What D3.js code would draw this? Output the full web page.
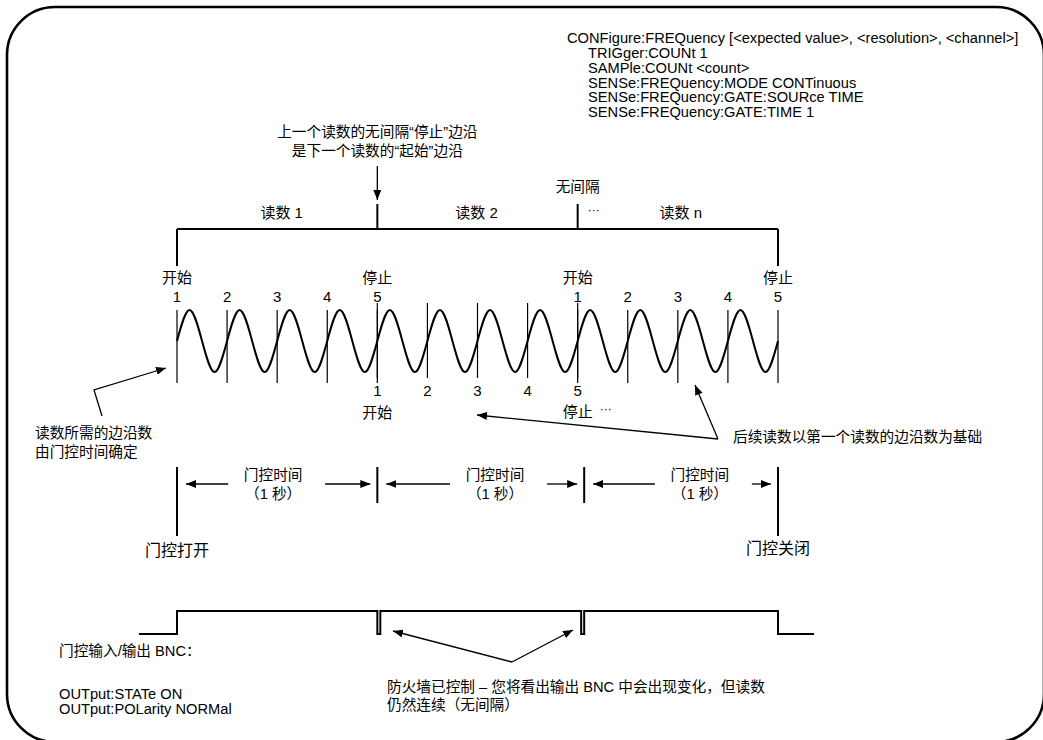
<!DOCTYPE html>
<html><head><meta charset="utf-8">
<script src="https://cdn.jsdelivr.net/npm/d3@7"></script>
<style>
html,body{margin:0;padding:0;background:#fff;}
svg{display:block;}
text{font-family:"Liberation Sans",Arial,"Noto Sans CJK SC",sans-serif;fill:#000;font-size:14.67px;}
</style></head>
<body>
<script>
// ---------- data ----------
const configLines = [
  "CONFigure:FREQuency [<expected value>, <resolution>, <channel>]",
  "TRIGger:COUNt 1",
  "SAMPle:COUNt <count>",
  "SENSe:FREQuency:MODE CONTinuous",
  "SENSe:FREQuency:GATE:SOURce TIME",
  "SENSe:FREQuency:GATE:TIME 1"
];
const noteTop = ["上一个读数的无间隔“停止”边沿", "是下一个读数的“起始”边沿"];
const readingLabels = ["读数 1", "读数 2", "读数 n"];
const readingCenters = [2.09, 5.98, 10.06];      // in cycles
const readingBounds = [0, 4, 8, 12];            // in cycles
const edgeNumbers = ["1", "2", "3", "4", "5"];
const topEdgeCycles = [0, 1, 2, 3, 4, 8, 9, 10, 11, 12];
const bottomEdgeCycles = [4, 5, 6, 7, 8];
const waveCycles = 12;
const wavePattern = [0, 1, 0, -1];               // level at each quarter cycle
const noteLeft = ["读数所需的边沿数", "由门控时间确定"];
const noteRight = "后续读数以第一个读数的边沿数为基础";
const gateBounds = [0, 4, 8.13, 12];            // in cycles
const gateTextCenters = [1.92, 6.35, 10.44];    // in cycles
const gateText = ["门控时间", "（1 秒）"];
const gateOpen = "门控打开", gateClose = "门控关闭";
const bncX = [-0.76, 0, 4, 4.06, 8.07, 8.13, 12, 12.72];
const bncLevel = [0, 1, 0, 1, 0, 1, 0, 0];
const bncNote = ["门控输入/输出 BNC：", "", "OUTput:STATe ON", "OUTput:POLarity NORMal"];
const fireNote = ["防火墙已控制 – 您将看出输出 BNC 中会出现变化，但读数", "仍然连续（无间隔）"];

// ---------- drawing ----------
const W = 1043, H = 740;
const svg = d3.select("body").append("svg").attr("width", W).attr("height", H);
const defs = svg.append("defs");
defs.append("marker").attr("id", "ah").attr("viewBox", "0 0 10 8")
  .attr("refX", 10).attr("refY", 4).attr("markerWidth", 10).attr("markerHeight", 8)
  .attr("markerUnits", "userSpaceOnUse").attr("orient", "auto")
  .append("path").attr("d", "M0,0 L10,4 L0,8 Z").attr("fill", "#000");

// frame
svg.append("rect").attr("x", 7).attr("y", 7).attr("width", 1037).attr("height", 735)
  .attr("rx", 48).attr("ry", 48).attr("fill", "none").attr("stroke", "#000").attr("stroke-width", 2.6);

const x = d3.scaleLinear().domain([0, waveCycles]).range([177, 778]);

// config text
const cfg = svg.append("g");
configLines.forEach((t, i) => {
  cfg.append("text").attr("x", i === 0 ? 567 : 588).attr("y", 38 + i * 14.8).attr("dy", "0.35em").text(t);
});

// top note + arrow
noteTop.forEach((t, i) => {
  svg.append("text").attr("x", x(4)).attr("y", 132 + i * 19).attr("dy", "0.35em")
    .attr("text-anchor", "middle").text(t);
});
svg.append("line").attr("x1", x(4)).attr("x2", x(4)).attr("y1", 166).attr("y2", 200)
  .attr("stroke", "#000").attr("stroke-width", 1.3).attr("marker-end", "url(#ah)");

// reading bracket
const bY = 229;
svg.append("line").attr("x1", x(0)).attr("x2", x(12)).attr("y1", bY).attr("y2", bY)
  .attr("stroke", "#000").attr("stroke-width", 2);
readingBounds.forEach((c, i) => {
  const end = (i === 0 || i === readingBounds.length - 1);
  svg.append("line").attr("x1", x(c)).attr("x2", x(c))
    .attr("y1", end ? bY : 204).attr("y2", end ? 266 : bY)
    .attr("stroke", "#000").attr("stroke-width", 2);
});
readingLabels.forEach((t, i) => {
  svg.append("text").attr("x", x(readingCenters[i])).attr("y", 213).attr("dy", "0.35em")
    .attr("text-anchor", "middle").style("font-size", "15px").text(t);
});
svg.append("text").attr("x", x(8)).attr("y", 187).attr("dy", "0.35em").attr("text-anchor", "middle")
  .text("无间隔");
svg.append("text").attr("x", x(8) + 16).attr("y", 210).attr("dy", "0.35em").attr("text-anchor", "middle")
  .style("font-size", "12px").text("···");

// start / stop labels (top)
[[0, "开始"], [4, "停止"], [8, "开始"], [12, "停止"]].forEach(([c, t]) => {
  svg.append("text").attr("x", x(c)).attr("y", 278).attr("dy", "0.35em").attr("text-anchor", "middle")
    .style("font-size", "15px").text(t);
});
topEdgeCycles.forEach((c, i) => {
  svg.append("text").attr("x", x(c)).attr("y", 297).attr("dy", "0.35em").attr("text-anchor", "middle")
    .style("font-size", "15px").text(edgeNumbers[i % 5]);
  svg.append("line").attr("x1", x(c)).attr("x2", x(c)).attr("y1", 310).attr("y2", 383)
    .attr("stroke", "#000").attr("stroke-width", 1.2);
});
bottomEdgeCycles.forEach((c, i) => {
  svg.append("line").attr("x1", x(c)).attr("x2", x(c)).attr("y1", 303).attr("y2", 378)
    .attr("stroke", "#000").attr("stroke-width", 1.2);
  svg.append("text").attr("x", x(c)).attr("y", 391).attr("dy", "0.35em").attr("text-anchor", "middle")
    .style("font-size", "15px").text(edgeNumbers[i]);
});
svg.append("text").attr("x", x(4)).attr("y", 413).attr("dy", "0.35em").attr("text-anchor", "middle")
  .style("font-size", "15px").text("开始");
svg.append("text").attr("x", x(8)).attr("y", 412).attr("dy", "0.35em").attr("text-anchor", "middle")
  .style("font-size", "15px").text("停止");
svg.append("text").attr("x", x(8) + 28).attr("y", 409).attr("dy", "0.35em").attr("text-anchor", "middle")
  .style("font-size", "12px").text("···");

// wave
const wavePts = d3.range(0, waveCycles * 4 + 1).map(k => ({c: k / 4, v: wavePattern[k % 4]}));
const wy = d3.scaleLinear().domain([-1, 1]).range([372, 310]);
svg.append("path").datum(wavePts)
  .attr("d", d3.line().x(d => x(d.c)).y(d => wy(d.v)).curve(d3.curveNatural))
  .attr("fill", "none").attr("stroke", "#000").attr("stroke-width", 2);

// left note
noteLeft.forEach((t, i) => {
  svg.append("text").attr("x", 35).attr("y", 433 + i * 19).attr("dy", "0.35em").text(t);
});
svg.append("polyline").attr("points", "102,416 94,390 166,368")
  .attr("fill", "none").attr("stroke", "#000").attr("stroke-width", 1.3).attr("marker-end", "url(#ah)");

// right note
svg.append("text").attr("x", 733).attr("y", 437).attr("dy", "0.35em").text(noteRight);
svg.append("line").attr("x1", 718).attr("y1", 439).attr("x2", 477).attr("y2", 415)
  .attr("stroke", "#000").attr("stroke-width", 1.3).attr("marker-end", "url(#ah)");
svg.append("line").attr("x1", 718).attr("y1", 439).attr("x2", 695).attr("y2", 385)
  .attr("stroke", "#000").attr("stroke-width", 1.3).attr("marker-end", "url(#ah)");

// gate section
gateBounds.forEach((c, i) => {
  const end = (i === 0 || i === gateBounds.length - 1);
  svg.append("line").attr("x1", x(c)).attr("x2", x(c)).attr("y1", 467).attr("y2", end ? 536 : 503)
    .attr("stroke", "#000").attr("stroke-width", 2);
});
gateTextCenters.forEach((c, i) => {
  const cx = x(c);
  gateText.forEach((t, j) => {
    svg.append("text").attr("x", cx).attr("y", 475 + j * 19).attr("dy", "0.35em").attr("text-anchor", "middle")
      .text(t);
  });
  const left = x(gateBounds[i]), right = x(gateBounds[i + 1]);
  svg.append("line").attr("x1", cx - 45).attr("x2", left + 9).attr("y1", 484).attr("y2", 484)
    .attr("stroke", "#000").attr("stroke-width", 1.3).attr("marker-end", "url(#ah)");
  svg.append("line").attr("x1", cx + 52).attr("x2", right - 7).attr("y1", 484).attr("y2", 484)
    .attr("stroke", "#000").attr("stroke-width", 1.3).attr("marker-end", "url(#ah)");
});
svg.append("text").attr("x", x(0)).attr("y", 550).attr("dy", "0.35em").attr("text-anchor", "middle")
  .style("font-size", "16px").text(gateOpen);
svg.append("text").attr("x", x(12)).attr("y", 548).attr("dy", "0.35em").attr("text-anchor", "middle")
  .style("font-size", "16px").text(gateClose);

// BNC signal
const by = d3.scaleLinear().domain([0, 1]).range([634, 611]);
svg.append("path").datum(bncX.map((v, i) => ({c: v, v: bncLevel[i]})))
  .attr("d", d3.line().x(d => x(d.c)).y(d => by(d.v)).curve(d3.curveStepAfter))
  .attr("fill", "none").attr("stroke", "#000").attr("stroke-width", 2);

bncNote.forEach((t, i) => {
  if (!t) return;
  svg.append("text").attr("x", 59).attr("y", i === 0 ? 651 : 665 + i * 14.5).attr("dy", "0.35em").text(t);
});
fireNote.forEach((t, i) => {
  svg.append("text").attr("x", 387).attr("y", 687 + i * 18).attr("dy", "0.35em").text(t);
});
svg.append("line").attr("x1", 512).attr("y1", 662).attr("x2", 393).attr("y2", 631)
  .attr("stroke", "#000").attr("stroke-width", 1.3).attr("marker-end", "url(#ah)");
svg.append("line").attr("x1", 512).attr("y1", 662).attr("x2", 573).attr("y2", 630)
  .attr("stroke", "#000").attr("stroke-width", 1.3).attr("marker-end", "url(#ah)");
</script>
</body></html>
